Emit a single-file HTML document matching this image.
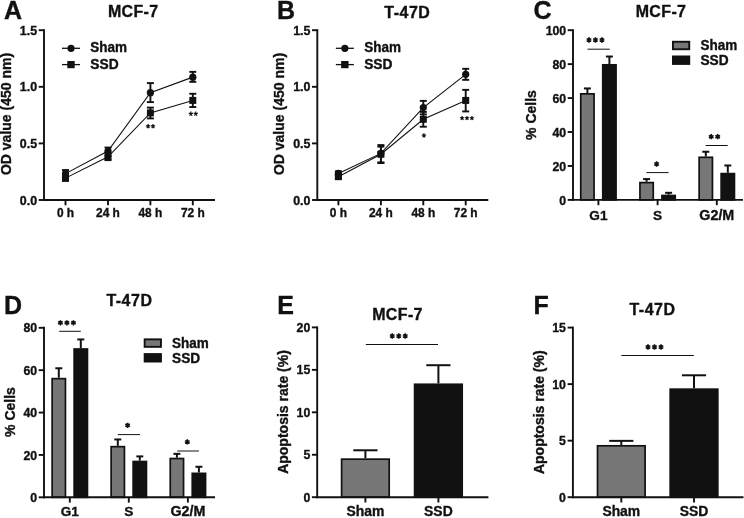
<!DOCTYPE html>
<html lang="en">
<head>
<meta charset="utf-8">
<title>Figure: SSD effects on MCF-7 and T-47D cells</title>
<style>
html, body { margin: 0; padding: 0; background: #ffffff; }
body { width: 744px; height: 518px; overflow: hidden; font-family: "Liberation Sans", sans-serif; }
svg { display: block; }
svg text { font-family: "Liberation Sans", sans-serif; font-weight: 700; stroke: #111; stroke-width: 0.35px; }
</style>
</head>
<body>
<svg width="744" height="518" viewBox="0 0 744 518" font-family="Liberation Sans, sans-serif" font-weight="700" fill="#111">
<defs><filter id="soft" x="0" y="0" width="744" height="518" filterUnits="userSpaceOnUse" color-interpolation-filters="sRGB"><feGaussianBlur stdDeviation="0.45"/></filter></defs>
<rect x="0" y="0" width="744" height="518" fill="#ffffff"/>
<g filter="url(#soft)">
<text x="4" y="18.8" font-size="25" text-anchor="start">A</text>
<text x="0" y="0" font-size="16" text-anchor="middle" transform="translate(133.2 16.6) scale(1 0.98)" letter-spacing="0.35">MCF-7</text>
<line x1="44" y1="29.25" x2="44" y2="200.95" stroke="#111" stroke-width="1.9" stroke-linecap="butt"/>
<line x1="38.7" y1="30.2" x2="44" y2="30.2" stroke="#111" stroke-width="1.9" stroke-linecap="butt"/>
<text x="37.1" y="34.84" font-size="12.4" text-anchor="end">1.5</text>
<line x1="38.7" y1="86.8" x2="44" y2="86.8" stroke="#111" stroke-width="1.9" stroke-linecap="butt"/>
<text x="37.1" y="91.44" font-size="12.4" text-anchor="end">1.0</text>
<line x1="38.7" y1="143.4" x2="44" y2="143.4" stroke="#111" stroke-width="1.9" stroke-linecap="butt"/>
<text x="37.1" y="148.04" font-size="12.4" text-anchor="end">0.5</text>
<line x1="38.7" y1="200" x2="44" y2="200" stroke="#111" stroke-width="1.9" stroke-linecap="butt"/>
<text x="37.1" y="204.64" font-size="12.4" text-anchor="end">0.0</text>
<text x="10.6" y="114" font-size="14" text-anchor="middle" transform="rotate(-90 10.6 114)">OD value (450 nm)</text>
<line x1="43.05" y1="200" x2="215" y2="200" stroke="#111" stroke-width="1.9" stroke-linecap="butt"/>
<line x1="65.5" y1="200" x2="65.5" y2="205.3" stroke="#111" stroke-width="1.9" stroke-linecap="butt"/>
<text x="65.5" y="217.1" font-size="11.9" text-anchor="middle">0 h</text>
<line x1="108" y1="200" x2="108" y2="205.3" stroke="#111" stroke-width="1.9" stroke-linecap="butt"/>
<text x="108" y="217.1" font-size="11.9" text-anchor="middle">24 h</text>
<line x1="150.4" y1="200" x2="150.4" y2="205.3" stroke="#111" stroke-width="1.9" stroke-linecap="butt"/>
<text x="150.4" y="217.1" font-size="11.9" text-anchor="middle">48 h</text>
<line x1="192.8" y1="200" x2="192.8" y2="205.3" stroke="#111" stroke-width="1.9" stroke-linecap="butt"/>
<text x="192.8" y="217.1" font-size="11.9" text-anchor="middle">72 h</text>
<line x1="62" y1="48.3" x2="80" y2="48.3" stroke="#111" stroke-width="1.3" stroke-linecap="butt"/>
<circle cx="71" cy="48.3" r="3.6" fill="#111"/>
<text x="0" y="0" font-size="13.5" text-anchor="start" transform="translate(90.3 52.3) scale(1 1.1)">Sham</text>
<line x1="62" y1="64.6" x2="80" y2="64.6" stroke="#111" stroke-width="1.3" stroke-linecap="butt"/>
<rect x="67.3" y="61" width="7.4" height="7.2" fill="#111"/>
<text x="0" y="0" font-size="13.8" text-anchor="start" transform="translate(90.3 69.3) scale(1 1.1)">SSD</text>
<polyline points="65.5,173.63 108,151.03 150.4,92.66 192.8,77.14" fill="none" stroke="#111" stroke-width="1.1"/>
<polyline points="65.5,178.13 108,156.76 150.4,112.9 192.8,100.42" fill="none" stroke="#111" stroke-width="1.1"/>
<line x1="65.5" y1="170.03" x2="65.5" y2="178.69" stroke="#111" stroke-width="1.9" stroke-linecap="butt"/>
<line x1="62" y1="170.03" x2="69" y2="170.03" stroke="#111" stroke-width="1.9" stroke-linecap="butt"/>
<line x1="62" y1="178.69" x2="69" y2="178.69" stroke="#111" stroke-width="1.9" stroke-linecap="butt"/>
<circle cx="65.5" cy="173.63" r="3.6" fill="#111"/>
<line x1="108" y1="147.54" x2="108" y2="156.2" stroke="#111" stroke-width="1.9" stroke-linecap="butt"/>
<line x1="104.5" y1="147.54" x2="111.5" y2="147.54" stroke="#111" stroke-width="1.9" stroke-linecap="butt"/>
<line x1="104.5" y1="156.2" x2="111.5" y2="156.2" stroke="#111" stroke-width="1.9" stroke-linecap="butt"/>
<circle cx="108" cy="151.03" r="3.6" fill="#111"/>
<line x1="150.4" y1="83.1" x2="150.4" y2="102.1" stroke="#111" stroke-width="1.9" stroke-linecap="butt"/>
<line x1="146.9" y1="83.1" x2="153.9" y2="83.1" stroke="#111" stroke-width="1.9" stroke-linecap="butt"/>
<line x1="146.9" y1="102.1" x2="153.9" y2="102.1" stroke="#111" stroke-width="1.9" stroke-linecap="butt"/>
<circle cx="150.4" cy="92.66" r="3.6" fill="#111"/>
<line x1="192.8" y1="71.85" x2="192.8" y2="81.86" stroke="#111" stroke-width="1.9" stroke-linecap="butt"/>
<line x1="189.3" y1="71.85" x2="196.3" y2="71.85" stroke="#111" stroke-width="1.9" stroke-linecap="butt"/>
<line x1="189.3" y1="81.86" x2="196.3" y2="81.86" stroke="#111" stroke-width="1.9" stroke-linecap="butt"/>
<circle cx="192.8" cy="77.14" r="3.6" fill="#111"/>
<line x1="65.5" y1="174.19" x2="65.5" y2="180.83" stroke="#111" stroke-width="1.9" stroke-linecap="butt"/>
<line x1="62" y1="174.19" x2="69" y2="174.19" stroke="#111" stroke-width="1.9" stroke-linecap="butt"/>
<line x1="62" y1="180.83" x2="69" y2="180.83" stroke="#111" stroke-width="1.9" stroke-linecap="butt"/>
<rect x="62" y="174.63" width="7" height="7" fill="#111"/>
<line x1="108" y1="152.49" x2="108" y2="160.14" stroke="#111" stroke-width="1.9" stroke-linecap="butt"/>
<line x1="104.5" y1="152.49" x2="111.5" y2="152.49" stroke="#111" stroke-width="1.9" stroke-linecap="butt"/>
<line x1="104.5" y1="160.14" x2="111.5" y2="160.14" stroke="#111" stroke-width="1.9" stroke-linecap="butt"/>
<rect x="104.5" y="153.26" width="7" height="7" fill="#111"/>
<line x1="150.4" y1="107.61" x2="150.4" y2="118.41" stroke="#111" stroke-width="1.9" stroke-linecap="butt"/>
<line x1="146.9" y1="107.61" x2="153.9" y2="107.61" stroke="#111" stroke-width="1.9" stroke-linecap="butt"/>
<line x1="146.9" y1="118.41" x2="153.9" y2="118.41" stroke="#111" stroke-width="1.9" stroke-linecap="butt"/>
<rect x="146.9" y="109.4" width="7" height="7" fill="#111"/>
<line x1="192.8" y1="93.78" x2="192.8" y2="107.05" stroke="#111" stroke-width="1.9" stroke-linecap="butt"/>
<line x1="189.3" y1="93.78" x2="196.3" y2="93.78" stroke="#111" stroke-width="1.9" stroke-linecap="butt"/>
<line x1="189.3" y1="107.05" x2="196.3" y2="107.05" stroke="#111" stroke-width="1.9" stroke-linecap="butt"/>
<rect x="189.3" y="96.92" width="7" height="7" fill="#111"/>
<path d="M148.1 126.3L148.1 124.1M148.1 126.3L150.19 125.62M148.1 126.3L149.39 128.08M148.1 126.3L146.81 128.08M148.1 126.3L146.01 125.62M153 126.3L153 124.1M153 126.3L155.09 125.62M153 126.3L154.29 128.08M153 126.3L151.71 128.08M153 126.3L150.91 125.62" fill="none" stroke="#111" stroke-width="1.2"/>
<path d="M190.85 113.8L190.85 111.6M190.85 113.8L192.94 113.12M190.85 113.8L192.14 115.58M190.85 113.8L189.56 115.58M190.85 113.8L188.76 113.12M195.75 113.8L195.75 111.6M195.75 113.8L197.84 113.12M195.75 113.8L197.04 115.58M195.75 113.8L194.46 115.58M195.75 113.8L193.66 113.12" fill="none" stroke="#111" stroke-width="1.2"/>
<text x="276.9" y="18.8" font-size="25" text-anchor="start">B</text>
<text x="0" y="0" font-size="16" text-anchor="middle" transform="translate(407.3 18.1) scale(1 0.98)" letter-spacing="0.5">T-47D</text>
<line x1="317.3" y1="29.25" x2="317.3" y2="200.95" stroke="#111" stroke-width="1.9" stroke-linecap="butt"/>
<line x1="312" y1="30.2" x2="317.3" y2="30.2" stroke="#111" stroke-width="1.9" stroke-linecap="butt"/>
<text x="310.4" y="34.84" font-size="12.4" text-anchor="end">1.5</text>
<line x1="312" y1="86.8" x2="317.3" y2="86.8" stroke="#111" stroke-width="1.9" stroke-linecap="butt"/>
<text x="310.4" y="91.44" font-size="12.4" text-anchor="end">1.0</text>
<line x1="312" y1="143.4" x2="317.3" y2="143.4" stroke="#111" stroke-width="1.9" stroke-linecap="butt"/>
<text x="310.4" y="148.04" font-size="12.4" text-anchor="end">0.5</text>
<line x1="312" y1="200" x2="317.3" y2="200" stroke="#111" stroke-width="1.9" stroke-linecap="butt"/>
<text x="310.4" y="204.64" font-size="12.4" text-anchor="end">0.0</text>
<text x="283.9" y="114" font-size="14" text-anchor="middle" transform="rotate(-90 283.9 114)">OD value (450 nm)</text>
<line x1="316.35" y1="200" x2="488.3" y2="200" stroke="#111" stroke-width="1.9" stroke-linecap="butt"/>
<line x1="338.4" y1="200" x2="338.4" y2="205.3" stroke="#111" stroke-width="1.9" stroke-linecap="butt"/>
<text x="338.4" y="217.1" font-size="11.9" text-anchor="middle">0 h</text>
<line x1="380.9" y1="200" x2="380.9" y2="205.3" stroke="#111" stroke-width="1.9" stroke-linecap="butt"/>
<text x="380.9" y="217.1" font-size="11.9" text-anchor="middle">24 h</text>
<line x1="423.3" y1="200" x2="423.3" y2="205.3" stroke="#111" stroke-width="1.9" stroke-linecap="butt"/>
<text x="423.3" y="217.1" font-size="11.9" text-anchor="middle">48 h</text>
<line x1="465.7" y1="200" x2="465.7" y2="205.3" stroke="#111" stroke-width="1.9" stroke-linecap="butt"/>
<text x="465.7" y="217.1" font-size="11.9" text-anchor="middle">72 h</text>
<line x1="335.85" y1="48.3" x2="353.85" y2="48.3" stroke="#111" stroke-width="1.3" stroke-linecap="butt"/>
<circle cx="344.85" cy="48.3" r="3.6" fill="#111"/>
<text x="0" y="0" font-size="13.5" text-anchor="start" transform="translate(364.15 52.3) scale(1 1.1)">Sham</text>
<line x1="335.85" y1="64.6" x2="353.85" y2="64.6" stroke="#111" stroke-width="1.3" stroke-linecap="butt"/>
<rect x="341.15" y="61" width="7.4" height="7.2" fill="#111"/>
<text x="0" y="0" font-size="13.8" text-anchor="start" transform="translate(364.15 69.3) scale(1 1.1)">SSD</text>
<polyline points="338.4,173.41 380.9,153.39 423.3,107.61 465.7,74.32" fill="none" stroke="#111" stroke-width="1.1"/>
<polyline points="338.4,176.67 380.9,154.29 423.3,119.31 465.7,100.42" fill="none" stroke="#111" stroke-width="1.1"/>
<line x1="338.4" y1="171.38" x2="338.4" y2="175.43" stroke="#111" stroke-width="1.9" stroke-linecap="butt"/>
<line x1="334.9" y1="171.38" x2="341.9" y2="171.38" stroke="#111" stroke-width="1.9" stroke-linecap="butt"/>
<line x1="334.9" y1="175.43" x2="341.9" y2="175.43" stroke="#111" stroke-width="1.9" stroke-linecap="butt"/>
<circle cx="338.4" cy="173.41" r="3.6" fill="#111"/>
<line x1="380.9" y1="145.07" x2="380.9" y2="163.06" stroke="#111" stroke-width="1.9" stroke-linecap="butt"/>
<line x1="377.4" y1="145.07" x2="384.4" y2="145.07" stroke="#111" stroke-width="1.9" stroke-linecap="butt"/>
<line x1="377.4" y1="163.06" x2="384.4" y2="163.06" stroke="#111" stroke-width="1.9" stroke-linecap="butt"/>
<circle cx="380.9" cy="153.39" r="3.6" fill="#111"/>
<line x1="423.3" y1="100.87" x2="423.3" y2="114.36" stroke="#111" stroke-width="1.9" stroke-linecap="butt"/>
<line x1="419.8" y1="100.87" x2="426.8" y2="100.87" stroke="#111" stroke-width="1.9" stroke-linecap="butt"/>
<line x1="419.8" y1="114.36" x2="426.8" y2="114.36" stroke="#111" stroke-width="1.9" stroke-linecap="butt"/>
<circle cx="423.3" cy="107.61" r="3.6" fill="#111"/>
<line x1="465.7" y1="68.81" x2="465.7" y2="79.84" stroke="#111" stroke-width="1.9" stroke-linecap="butt"/>
<line x1="462.2" y1="68.81" x2="469.2" y2="68.81" stroke="#111" stroke-width="1.9" stroke-linecap="butt"/>
<line x1="462.2" y1="79.84" x2="469.2" y2="79.84" stroke="#111" stroke-width="1.9" stroke-linecap="butt"/>
<circle cx="465.7" cy="74.32" r="3.6" fill="#111"/>
<line x1="338.4" y1="174.64" x2="338.4" y2="178.69" stroke="#111" stroke-width="1.9" stroke-linecap="butt"/>
<line x1="334.9" y1="174.64" x2="341.9" y2="174.64" stroke="#111" stroke-width="1.9" stroke-linecap="butt"/>
<line x1="334.9" y1="178.69" x2="341.9" y2="178.69" stroke="#111" stroke-width="1.9" stroke-linecap="butt"/>
<rect x="334.9" y="173.17" width="7" height="7" fill="#111"/>
<line x1="380.9" y1="146.64" x2="380.9" y2="162.39" stroke="#111" stroke-width="1.9" stroke-linecap="butt"/>
<line x1="377.4" y1="146.64" x2="384.4" y2="146.64" stroke="#111" stroke-width="1.9" stroke-linecap="butt"/>
<line x1="377.4" y1="162.39" x2="384.4" y2="162.39" stroke="#111" stroke-width="1.9" stroke-linecap="butt"/>
<rect x="377.4" y="150.79" width="7" height="7" fill="#111"/>
<line x1="423.3" y1="111.89" x2="423.3" y2="126.73" stroke="#111" stroke-width="1.9" stroke-linecap="butt"/>
<line x1="419.8" y1="111.89" x2="426.8" y2="111.89" stroke="#111" stroke-width="1.9" stroke-linecap="butt"/>
<line x1="419.8" y1="126.73" x2="426.8" y2="126.73" stroke="#111" stroke-width="1.9" stroke-linecap="butt"/>
<rect x="419.8" y="115.81" width="7" height="7" fill="#111"/>
<line x1="465.7" y1="89.85" x2="465.7" y2="111.44" stroke="#111" stroke-width="1.9" stroke-linecap="butt"/>
<line x1="462.2" y1="89.85" x2="469.2" y2="89.85" stroke="#111" stroke-width="1.9" stroke-linecap="butt"/>
<line x1="462.2" y1="111.44" x2="469.2" y2="111.44" stroke="#111" stroke-width="1.9" stroke-linecap="butt"/>
<rect x="462.2" y="96.92" width="7" height="7" fill="#111"/>
<path d="M423.9 135.5L423.9 133.3M423.9 135.5L425.99 134.82M423.9 135.5L425.19 137.28M423.9 135.5L422.61 137.28M423.9 135.5L421.81 134.82" fill="none" stroke="#111" stroke-width="1.2"/>
<path d="M462.1 118.2L462.1 116M462.1 118.2L464.19 117.52M462.1 118.2L463.39 119.98M462.1 118.2L460.81 119.98M462.1 118.2L460.01 117.52M467 118.2L467 116M467 118.2L469.09 117.52M467 118.2L468.29 119.98M467 118.2L465.71 119.98M467 118.2L464.91 117.52M471.9 118.2L471.9 116M471.9 118.2L473.99 117.52M471.9 118.2L473.19 119.98M471.9 118.2L470.61 119.98M471.9 118.2L469.81 117.52" fill="none" stroke="#111" stroke-width="1.2"/>
<text x="533.4" y="19.2" font-size="25" text-anchor="start">C</text>
<text x="0" y="0" font-size="16" text-anchor="middle" transform="translate(661 16.5) scale(1 0.98)" letter-spacing="0.35">MCF-7</text>
<line x1="573" y1="29.25" x2="573" y2="200.85" stroke="#111" stroke-width="1.9" stroke-linecap="butt"/>
<line x1="567.7" y1="30.2" x2="573" y2="30.2" stroke="#111" stroke-width="1.9" stroke-linecap="butt"/>
<text x="566.2" y="34.8" font-size="12.3" text-anchor="end">100</text>
<line x1="567.7" y1="64.14" x2="573" y2="64.14" stroke="#111" stroke-width="1.9" stroke-linecap="butt"/>
<text x="566.2" y="68.75" font-size="12.3" text-anchor="end">80</text>
<line x1="567.7" y1="98.08" x2="573" y2="98.08" stroke="#111" stroke-width="1.9" stroke-linecap="butt"/>
<text x="566.2" y="102.68" font-size="12.3" text-anchor="end">60</text>
<line x1="567.7" y1="132.02" x2="573" y2="132.02" stroke="#111" stroke-width="1.9" stroke-linecap="butt"/>
<text x="566.2" y="136.63" font-size="12.3" text-anchor="end">40</text>
<line x1="567.7" y1="165.96" x2="573" y2="165.96" stroke="#111" stroke-width="1.9" stroke-linecap="butt"/>
<text x="566.2" y="170.57" font-size="12.3" text-anchor="end">20</text>
<line x1="567.7" y1="199.9" x2="573" y2="199.9" stroke="#111" stroke-width="1.9" stroke-linecap="butt"/>
<text x="566.2" y="204.51" font-size="12.3" text-anchor="end">0</text>
<text x="536.2" y="115" font-size="14" text-anchor="middle" transform="rotate(-90 536.2 115)">% Cells</text>
<line x1="587.4" y1="88.44" x2="587.4" y2="92.99" stroke="#111" stroke-width="2" stroke-linecap="butt"/>
<line x1="583.9" y1="88.44" x2="590.9" y2="88.44" stroke="#111" stroke-width="2" stroke-linecap="butt"/>
<rect x="580.75" y="93.84" width="13.3" height="106.06" fill="#777777" stroke="#111" stroke-width="1.7"/>
<line x1="609.4" y1="56.53" x2="609.4" y2="63.97" stroke="#111" stroke-width="2" stroke-linecap="butt"/>
<line x1="605.9" y1="56.53" x2="612.9" y2="56.53" stroke="#111" stroke-width="2" stroke-linecap="butt"/>
<rect x="602.75" y="64.82" width="13.3" height="135.08" fill="#111111" stroke="#111" stroke-width="1.7"/>
<line x1="646.6" y1="179.06" x2="646.6" y2="181.74" stroke="#111" stroke-width="2" stroke-linecap="butt"/>
<line x1="643.1" y1="179.06" x2="650.1" y2="179.06" stroke="#111" stroke-width="2" stroke-linecap="butt"/>
<rect x="639.95" y="182.59" width="13.3" height="17.31" fill="#777777" stroke="#111" stroke-width="1.7"/>
<line x1="668.6" y1="192.8" x2="668.6" y2="194.64" stroke="#111" stroke-width="2" stroke-linecap="butt"/>
<line x1="665.1" y1="192.8" x2="672.1" y2="192.8" stroke="#111" stroke-width="2" stroke-linecap="butt"/>
<rect x="661.95" y="195.49" width="13.3" height="4.41" fill="#111111" stroke="#111" stroke-width="1.7"/>
<line x1="705.8" y1="151.74" x2="705.8" y2="156.46" stroke="#111" stroke-width="2" stroke-linecap="butt"/>
<line x1="702.3" y1="151.74" x2="709.3" y2="151.74" stroke="#111" stroke-width="2" stroke-linecap="butt"/>
<rect x="699.15" y="157.31" width="13.3" height="42.59" fill="#777777" stroke="#111" stroke-width="1.7"/>
<line x1="727.8" y1="165.48" x2="727.8" y2="172.75" stroke="#111" stroke-width="2" stroke-linecap="butt"/>
<line x1="724.3" y1="165.48" x2="731.3" y2="165.48" stroke="#111" stroke-width="2" stroke-linecap="butt"/>
<rect x="721.15" y="173.6" width="13.3" height="26.3" fill="#111111" stroke="#111" stroke-width="1.7"/>
<line x1="572.05" y1="199.9" x2="743" y2="199.9" stroke="#111" stroke-width="1.9" stroke-linecap="butt"/>
<line x1="598.4" y1="199.9" x2="598.4" y2="205.2" stroke="#111" stroke-width="1.9" stroke-linecap="butt"/>
<text x="598.4" y="219.5" font-size="13.6" text-anchor="middle">G1</text>
<line x1="657.6" y1="199.9" x2="657.6" y2="205.2" stroke="#111" stroke-width="1.9" stroke-linecap="butt"/>
<text x="657.6" y="219.5" font-size="13.6" text-anchor="middle">S</text>
<line x1="716.8" y1="199.9" x2="716.8" y2="205.2" stroke="#111" stroke-width="1.9" stroke-linecap="butt"/>
<text x="716.8" y="219.5" font-size="14.3" text-anchor="middle">G2/M</text>
<line x1="587.5" y1="49.2" x2="609.7" y2="49.2" stroke="#111" stroke-width="1" stroke-linecap="butt"/>
<path d="M588.95 40L588.95 37.35M588.95 40L591.24 38.67M588.95 40L591.24 41.33M588.95 40L588.95 42.65M588.95 40L586.66 41.33M588.95 40L586.66 38.67M595.45 40L595.45 37.35M595.45 40L597.74 38.67M595.45 40L597.74 41.33M595.45 40L595.45 42.65M595.45 40L593.16 41.33M595.45 40L593.16 38.67M601.95 40L601.95 37.35M601.95 40L604.24 38.67M601.95 40L604.24 41.33M601.95 40L601.95 42.65M601.95 40L599.66 41.33M601.95 40L599.66 38.67" fill="none" stroke="#111" stroke-width="1.6"/>
<line x1="646.4" y1="172.6" x2="668.6" y2="172.6" stroke="#111" stroke-width="1" stroke-linecap="butt"/>
<path d="M656.6 164L656.6 161.35M656.6 164L658.89 162.68M656.6 164L658.89 165.32M656.6 164L656.6 166.65M656.6 164L654.31 165.32M656.6 164L654.31 162.68" fill="none" stroke="#111" stroke-width="1.6"/>
<line x1="705.6" y1="145.5" x2="727.7" y2="145.5" stroke="#111" stroke-width="1" stroke-linecap="butt"/>
<path d="M711.2 136.7L711.2 134.05M711.2 136.7L713.49 135.38M711.2 136.7L713.49 138.02M711.2 136.7L711.2 139.35M711.2 136.7L708.91 138.02M711.2 136.7L708.91 135.38M717.7 136.7L717.7 134.05M717.7 136.7L719.99 135.38M717.7 136.7L719.99 138.02M717.7 136.7L717.7 139.35M717.7 136.7L715.41 138.02M717.7 136.7L715.41 135.38" fill="none" stroke="#111" stroke-width="1.6"/>
<rect x="672.95" y="41.75" width="16.3" height="7.5" fill="#777777" stroke="#111" stroke-width="1.9"/>
<rect x="672.95" y="56.45" width="16.3" height="7.5" fill="#111111" stroke="#111" stroke-width="1.9"/>
<text x="0" y="0" font-size="13.5" text-anchor="start" transform="translate(700.4 50.3) scale(1 1.1)">Sham</text>
<text x="0" y="0" font-size="13.7" text-anchor="start" transform="translate(700.4 65.1) scale(1 1.1)">SSD</text>
<text x="3.9" y="314.3" font-size="25" text-anchor="start">D</text>
<text x="0" y="0" font-size="16" text-anchor="middle" transform="translate(129.4 306.1) scale(1 0.98)" letter-spacing="0.5">T-47D</text>
<line x1="44" y1="326.85" x2="44" y2="498.25" stroke="#111" stroke-width="1.9" stroke-linecap="butt"/>
<line x1="38.7" y1="327.8" x2="44" y2="327.8" stroke="#111" stroke-width="1.9" stroke-linecap="butt"/>
<text x="37.2" y="332.41" font-size="12.3" text-anchor="end">80</text>
<line x1="38.7" y1="370.18" x2="44" y2="370.18" stroke="#111" stroke-width="1.9" stroke-linecap="butt"/>
<text x="37.2" y="374.78" font-size="12.3" text-anchor="end">60</text>
<line x1="38.7" y1="412.55" x2="44" y2="412.55" stroke="#111" stroke-width="1.9" stroke-linecap="butt"/>
<text x="37.2" y="417.16" font-size="12.3" text-anchor="end">40</text>
<line x1="38.7" y1="454.93" x2="44" y2="454.93" stroke="#111" stroke-width="1.9" stroke-linecap="butt"/>
<text x="37.2" y="459.53" font-size="12.3" text-anchor="end">20</text>
<line x1="38.7" y1="497.3" x2="44" y2="497.3" stroke="#111" stroke-width="1.9" stroke-linecap="butt"/>
<text x="37.2" y="501.91" font-size="12.3" text-anchor="end">0</text>
<text x="14.9" y="412" font-size="14" text-anchor="middle" transform="rotate(-90 14.9 412)">% Cells</text>
<line x1="58.8" y1="368.26" x2="58.8" y2="377.8" stroke="#111" stroke-width="2" stroke-linecap="butt"/>
<line x1="55.3" y1="368.26" x2="62.3" y2="368.26" stroke="#111" stroke-width="2" stroke-linecap="butt"/>
<rect x="52.15" y="378.65" width="13.3" height="118.65" fill="#777777" stroke="#111" stroke-width="1.7"/>
<line x1="80.8" y1="339.44" x2="80.8" y2="348.14" stroke="#111" stroke-width="2" stroke-linecap="butt"/>
<line x1="77.3" y1="339.44" x2="84.3" y2="339.44" stroke="#111" stroke-width="2" stroke-linecap="butt"/>
<rect x="74.15" y="348.99" width="13.3" height="148.31" fill="#111111" stroke="#111" stroke-width="1.7"/>
<line x1="117.8" y1="439.45" x2="117.8" y2="445.81" stroke="#111" stroke-width="2" stroke-linecap="butt"/>
<line x1="114.3" y1="439.45" x2="121.3" y2="439.45" stroke="#111" stroke-width="2" stroke-linecap="butt"/>
<rect x="111.15" y="446.66" width="13.3" height="50.64" fill="#777777" stroke="#111" stroke-width="1.7"/>
<line x1="139.8" y1="456.4" x2="139.8" y2="460.65" stroke="#111" stroke-width="2" stroke-linecap="butt"/>
<line x1="136.3" y1="456.4" x2="143.3" y2="456.4" stroke="#111" stroke-width="2" stroke-linecap="butt"/>
<rect x="133.15" y="461.5" width="13.3" height="35.8" fill="#111111" stroke="#111" stroke-width="1.7"/>
<line x1="176.9" y1="453.85" x2="176.9" y2="457.68" stroke="#111" stroke-width="2" stroke-linecap="butt"/>
<line x1="173.4" y1="453.85" x2="180.4" y2="453.85" stroke="#111" stroke-width="2" stroke-linecap="butt"/>
<rect x="170.25" y="458.53" width="13.3" height="38.77" fill="#777777" stroke="#111" stroke-width="1.7"/>
<line x1="198.9" y1="466.78" x2="198.9" y2="472.51" stroke="#111" stroke-width="2" stroke-linecap="butt"/>
<line x1="195.4" y1="466.78" x2="202.4" y2="466.78" stroke="#111" stroke-width="2" stroke-linecap="butt"/>
<rect x="192.25" y="473.36" width="13.3" height="23.94" fill="#111111" stroke="#111" stroke-width="1.7"/>
<line x1="43.05" y1="497.3" x2="215" y2="497.3" stroke="#111" stroke-width="1.9" stroke-linecap="butt"/>
<line x1="69.8" y1="497.3" x2="69.8" y2="502.6" stroke="#111" stroke-width="1.9" stroke-linecap="butt"/>
<text x="69.8" y="516.3" font-size="13.6" text-anchor="middle">G1</text>
<line x1="128.8" y1="497.3" x2="128.8" y2="502.6" stroke="#111" stroke-width="1.9" stroke-linecap="butt"/>
<text x="128.8" y="516.3" font-size="13.6" text-anchor="middle">S</text>
<line x1="187.9" y1="497.3" x2="187.9" y2="502.6" stroke="#111" stroke-width="1.9" stroke-linecap="butt"/>
<text x="187.9" y="516.3" font-size="14.3" text-anchor="middle">G2/M</text>
<line x1="59.2" y1="331.3" x2="80.8" y2="331.3" stroke="#111" stroke-width="1" stroke-linecap="butt"/>
<path d="M60.4 322.8L60.4 320.15M60.4 322.8L62.69 321.48M60.4 322.8L62.69 324.12M60.4 322.8L60.4 325.45M60.4 322.8L58.11 324.12M60.4 322.8L58.11 321.48M66.9 322.8L66.9 320.15M66.9 322.8L69.19 321.48M66.9 322.8L69.19 324.12M66.9 322.8L66.9 325.45M66.9 322.8L64.61 324.12M66.9 322.8L64.61 321.48M73.4 322.8L73.4 320.15M73.4 322.8L75.69 321.48M73.4 322.8L75.69 324.12M73.4 322.8L73.4 325.45M73.4 322.8L71.11 324.12M73.4 322.8L71.11 321.48" fill="none" stroke="#111" stroke-width="1.6"/>
<line x1="117.8" y1="434.6" x2="140.1" y2="434.6" stroke="#111" stroke-width="1" stroke-linecap="butt"/>
<path d="M127.6 425.3L127.6 422.65M127.6 425.3L129.89 423.98M127.6 425.3L129.89 426.62M127.6 425.3L127.6 427.95M127.6 425.3L125.31 426.62M127.6 425.3L125.31 423.98" fill="none" stroke="#111" stroke-width="1.6"/>
<line x1="177.3" y1="451" x2="198.9" y2="451" stroke="#111" stroke-width="1" stroke-linecap="butt"/>
<path d="M187.3 441.9L187.3 439.25M187.3 441.9L189.59 440.57M187.3 441.9L189.59 443.22M187.3 441.9L187.3 444.55M187.3 441.9L185.01 443.22M187.3 441.9L185.01 440.57" fill="none" stroke="#111" stroke-width="1.6"/>
<rect x="144.65" y="339.35" width="16.3" height="7.5" fill="#777777" stroke="#111" stroke-width="1.9"/>
<rect x="144.65" y="354.05" width="16.3" height="7.5" fill="#111111" stroke="#111" stroke-width="1.9"/>
<text x="0" y="0" font-size="13.5" text-anchor="start" transform="translate(172.1 347.9) scale(1 1.1)">Sham</text>
<text x="0" y="0" font-size="13.7" text-anchor="start" transform="translate(172.1 362.7) scale(1 1.1)">SSD</text>
<text x="277.2" y="314.3" font-size="25" text-anchor="start">E</text>
<text x="0" y="0" font-size="16" text-anchor="middle" transform="translate(397.5 319.8) scale(1 0.98)" letter-spacing="0.35">MCF-7</text>
<line x1="317.2" y1="326.45" x2="317.2" y2="498.15" stroke="#111" stroke-width="1.9" stroke-linecap="butt"/>
<line x1="311.9" y1="327.4" x2="317.2" y2="327.4" stroke="#111" stroke-width="1.9" stroke-linecap="butt"/>
<text x="310.25" y="331.81" font-size="12.3" text-anchor="end">20</text>
<line x1="311.9" y1="369.85" x2="317.2" y2="369.85" stroke="#111" stroke-width="1.9" stroke-linecap="butt"/>
<text x="310.25" y="374.25" font-size="12.3" text-anchor="end">15</text>
<line x1="311.9" y1="412.3" x2="317.2" y2="412.3" stroke="#111" stroke-width="1.9" stroke-linecap="butt"/>
<text x="310.25" y="416.7" font-size="12.3" text-anchor="end">10</text>
<line x1="311.9" y1="454.75" x2="317.2" y2="454.75" stroke="#111" stroke-width="1.9" stroke-linecap="butt"/>
<text x="310.25" y="459.16" font-size="12.3" text-anchor="end">5</text>
<line x1="311.9" y1="497.2" x2="317.2" y2="497.2" stroke="#111" stroke-width="1.9" stroke-linecap="butt"/>
<text x="310.25" y="501.61" font-size="12.3" text-anchor="end">0</text>
<text x="288.3" y="412" font-size="14" text-anchor="middle" transform="rotate(-90 288.3 412)">Apoptosis rate (%)</text>
<line x1="365.4" y1="450.28" x2="365.4" y2="458.32" stroke="#111" stroke-width="2" stroke-linecap="butt"/>
<line x1="353.3" y1="450.28" x2="377.5" y2="450.28" stroke="#111" stroke-width="2" stroke-linecap="butt"/>
<rect x="341.6" y="459.17" width="47.6" height="38.03" fill="#777777" stroke="#111" stroke-width="1.7"/>
<line x1="438.4" y1="365.21" x2="438.4" y2="383.43" stroke="#111" stroke-width="2" stroke-linecap="butt"/>
<line x1="426.3" y1="365.21" x2="450.5" y2="365.21" stroke="#111" stroke-width="2" stroke-linecap="butt"/>
<rect x="414.6" y="384.28" width="47.6" height="112.92" fill="#111111" stroke="#111" stroke-width="1.7"/>
<line x1="316.25" y1="497.2" x2="488.4" y2="497.2" stroke="#111" stroke-width="1.9" stroke-linecap="butt"/>
<line x1="365.4" y1="497.2" x2="365.4" y2="502.5" stroke="#111" stroke-width="1.9" stroke-linecap="butt"/>
<text x="365.4" y="516.3" font-size="13.9" text-anchor="middle">Sham</text>
<line x1="438.4" y1="497.2" x2="438.4" y2="502.5" stroke="#111" stroke-width="1.9" stroke-linecap="butt"/>
<text x="438.4" y="516.3" font-size="13.9" text-anchor="middle">SSD</text>
<line x1="365.8" y1="344.5" x2="438" y2="344.5" stroke="#111" stroke-width="1" stroke-linecap="butt"/>
<path d="M392.25 336L392.25 333.35M392.25 336L394.54 334.68M392.25 336L394.54 337.32M392.25 336L392.25 338.65M392.25 336L389.96 337.32M392.25 336L389.96 334.68M398.75 336L398.75 333.35M398.75 336L401.04 334.68M398.75 336L401.04 337.32M398.75 336L398.75 338.65M398.75 336L396.46 337.32M398.75 336L396.46 334.68M405.25 336L405.25 333.35M405.25 336L407.54 334.68M405.25 336L407.54 337.32M405.25 336L405.25 338.65M405.25 336L402.96 337.32M405.25 336L402.96 334.68" fill="none" stroke="#111" stroke-width="1.6"/>
<text x="533.6" y="314.3" font-size="25" text-anchor="start">F</text>
<text x="0" y="0" font-size="16" text-anchor="middle" transform="translate(652.5 314.5) scale(1 0.98)" letter-spacing="0.5">T-47D</text>
<line x1="572.9" y1="326.65" x2="572.9" y2="498.15" stroke="#111" stroke-width="1.9" stroke-linecap="butt"/>
<line x1="567.6" y1="327.6" x2="572.9" y2="327.6" stroke="#111" stroke-width="1.9" stroke-linecap="butt"/>
<text x="565.95" y="332.01" font-size="12.3" text-anchor="end">15</text>
<line x1="567.6" y1="384.13" x2="572.9" y2="384.13" stroke="#111" stroke-width="1.9" stroke-linecap="butt"/>
<text x="565.95" y="388.54" font-size="12.3" text-anchor="end">10</text>
<line x1="567.6" y1="440.67" x2="572.9" y2="440.67" stroke="#111" stroke-width="1.9" stroke-linecap="butt"/>
<text x="565.95" y="445.07" font-size="12.3" text-anchor="end">5</text>
<line x1="567.6" y1="497.2" x2="572.9" y2="497.2" stroke="#111" stroke-width="1.9" stroke-linecap="butt"/>
<text x="565.95" y="501.61" font-size="12.3" text-anchor="end">0</text>
<text x="543.7" y="412.2" font-size="14" text-anchor="middle" transform="rotate(-90 543.7 412.2)">Apoptosis rate (%)</text>
<line x1="621.3" y1="440.87" x2="621.3" y2="444.96" stroke="#111" stroke-width="2" stroke-linecap="butt"/>
<line x1="609.2" y1="440.87" x2="633.4" y2="440.87" stroke="#111" stroke-width="2" stroke-linecap="butt"/>
<rect x="597.5" y="445.81" width="47.6" height="51.39" fill="#777777" stroke="#111" stroke-width="1.7"/>
<line x1="694" y1="375.29" x2="694" y2="388.32" stroke="#111" stroke-width="2" stroke-linecap="butt"/>
<line x1="681.9" y1="375.29" x2="706.1" y2="375.29" stroke="#111" stroke-width="2" stroke-linecap="butt"/>
<rect x="670.2" y="389.17" width="47.6" height="108.03" fill="#111111" stroke="#111" stroke-width="1.7"/>
<line x1="571.95" y1="497.2" x2="743.5" y2="497.2" stroke="#111" stroke-width="1.9" stroke-linecap="butt"/>
<line x1="621.3" y1="497.2" x2="621.3" y2="502.5" stroke="#111" stroke-width="1.9" stroke-linecap="butt"/>
<text x="621.3" y="516.3" font-size="13.9" text-anchor="middle">Sham</text>
<line x1="694" y1="497.2" x2="694" y2="502.5" stroke="#111" stroke-width="1.9" stroke-linecap="butt"/>
<text x="694" y="516.3" font-size="13.9" text-anchor="middle">SSD</text>
<line x1="621.3" y1="355.5" x2="693.8" y2="355.5" stroke="#111" stroke-width="1" stroke-linecap="butt"/>
<path d="M648 347L648 344.35M648 347L650.29 345.68M648 347L650.29 348.32M648 347L648 349.65M648 347L645.71 348.32M648 347L645.71 345.68M654.5 347L654.5 344.35M654.5 347L656.79 345.68M654.5 347L656.79 348.32M654.5 347L654.5 349.65M654.5 347L652.21 348.32M654.5 347L652.21 345.68M661 347L661 344.35M661 347L663.29 345.68M661 347L663.29 348.32M661 347L661 349.65M661 347L658.71 348.32M661 347L658.71 345.68" fill="none" stroke="#111" stroke-width="1.6"/>
</g>
</svg>
</body>
</html>
